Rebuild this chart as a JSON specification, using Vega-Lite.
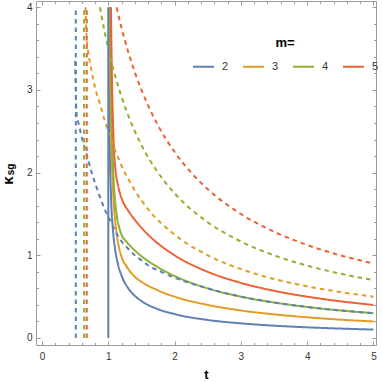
{
  "$schema": "https://vega.github.io/schema/vega-lite/v6.json",
  "width": 340,
  "height": 344,
  "autosize": {"type": "none"},
  "padding": {"left": 36, "top": 1, "right": 6, "bottom": 37},
  "background": "white",
  "datasets": {
    "curves": [
      {"m":"2","s":"solid","t":1.0078,"k":3.99},{"m":"2","s":"solid","t":1.01,"k":3.53},{"m":"2","s":"solid","t":1.02,"k":2.49},{"m":"2","s":"solid","t":1.04,"k":1.75},{"m":"2","s":"solid","t":1.07,"k":1.31},{"m":"2","s":"solid","t":1.1,"k":1.09},{"m":"2","s":"solid","t":1.15,"k":0.88},{"m":"2","s":"solid","t":1.2,"k":0.754},{"m":"2","s":"solid","t":1.3,"k":0.602},{"m":"2","s":"solid","t":1.4,"k":0.51},{"m":"2","s":"solid","t":1.5,"k":0.447},{"m":"2","s":"solid","t":1.75,"k":0.348},{"m":"2","s":"solid","t":2,"k":0.289},{"m":"2","s":"solid","t":2.5,"k":0.218},{"m":"2","s":"solid","t":3,"k":0.177},{"m":"2","s":"solid","t":3.5,"k":0.149},{"m":"2","s":"solid","t":4,"k":0.129},{"m":"2","s":"solid","t":4.5,"k":0.114},{"m":"2","s":"solid","t":5,"k":0.102},
      {"m":"3","s":"solid","t":1.02,"k":4},{"m":"3","s":"solid","t":1.03,"k":3.1},{"m":"3","s":"solid","t":1.045,"k":2.4},{"m":"3","s":"solid","t":1.065,"k":1.9},{"m":"3","s":"solid","t":1.085,"k":1.6},{"m":"3","s":"solid","t":1.1,"k":1.45},{"m":"3","s":"solid","t":1.13,"k":1.24},{"m":"3","s":"solid","t":1.16,"k":1.1},{"m":"3","s":"solid","t":1.2,"k":0.98},{"m":"3","s":"solid","t":1.28,"k":0.86},{"m":"3","s":"solid","t":1.4,"k":0.74},{"m":"3","s":"solid","t":1.5,"k":0.68},{"m":"3","s":"solid","t":1.75,"k":0.575},{"m":"3","s":"solid","t":2,"k":0.5},{"m":"3","s":"solid","t":2.5,"k":0.4},{"m":"3","s":"solid","t":3,"k":0.333},{"m":"3","s":"solid","t":3.5,"k":0.286},{"m":"3","s":"solid","t":4,"k":0.25},{"m":"3","s":"solid","t":4.5,"k":0.222},{"m":"3","s":"solid","t":5,"k":0.2},
      {"m":"4","s":"solid","t":1.03,"k":4},{"m":"4","s":"solid","t":1.04,"k":3.2},{"m":"4","s":"solid","t":1.055,"k":2.5},{"m":"4","s":"solid","t":1.075,"k":2.0},{"m":"4","s":"solid","t":1.1,"k":1.68},{"m":"4","s":"solid","t":1.13,"k":1.47},{"m":"4","s":"solid","t":1.16,"k":1.35},{"m":"4","s":"solid","t":1.2,"k":1.25},{"m":"4","s":"solid","t":1.28,"k":1.16},{"m":"4","s":"solid","t":1.4,"k":1.06},{"m":"4","s":"solid","t":1.5,"k":0.99},{"m":"4","s":"solid","t":1.75,"k":0.855},{"m":"4","s":"solid","t":2,"k":0.75},{"m":"4","s":"solid","t":2.5,"k":0.6},{"m":"4","s":"solid","t":3,"k":0.5},{"m":"4","s":"solid","t":3.5,"k":0.429},{"m":"4","s":"solid","t":4,"k":0.375},{"m":"4","s":"solid","t":4.5,"k":0.333},{"m":"4","s":"solid","t":5,"k":0.3},
      {"m":"5","s":"solid","t":1.04,"k":4},{"m":"5","s":"solid","t":1.05,"k":3.4},{"m":"5","s":"solid","t":1.06,"k":2.95},{"m":"5","s":"solid","t":1.075,"k":2.5},{"m":"5","s":"solid","t":1.09,"k":2.22},{"m":"5","s":"solid","t":1.11,"k":2.02},{"m":"5","s":"solid","t":1.14,"k":1.87},{"m":"5","s":"solid","t":1.18,"k":1.74},{"m":"5","s":"solid","t":1.22,"k":1.65},{"m":"5","s":"solid","t":1.3,"k":1.54},{"m":"5","s":"solid","t":1.4,"k":1.43},{"m":"5","s":"solid","t":1.5,"k":1.333},{"m":"5","s":"solid","t":1.75,"k":1.143},{"m":"5","s":"solid","t":2,"k":1.0},{"m":"5","s":"solid","t":2.5,"k":0.8},{"m":"5","s":"solid","t":3,"k":0.667},{"m":"5","s":"solid","t":3.5,"k":0.571},{"m":"5","s":"solid","t":4,"k":0.5},{"m":"5","s":"solid","t":4.5,"k":0.444},{"m":"5","s":"solid","t":5,"k":0.4},
      {"m":"2","s":"dashed","t":0.5,"k":3.35},{"m":"2","s":"dashed","t":0.51,"k":3.0},{"m":"2","s":"dashed","t":0.52,"k":2.72},{"m":"2","s":"dashed","t":0.55,"k":2.6},{"m":"2","s":"dashed","t":0.6,"k":2.43},{"m":"2","s":"dashed","t":0.67,"k":2.23},{"m":"2","s":"dashed","t":0.75,"k":2.0},{"m":"2","s":"dashed","t":0.85,"k":1.76},{"m":"2","s":"dashed","t":0.95,"k":1.55},{"m":"2","s":"dashed","t":1.03,"k":1.42},{"m":"2","s":"dashed","t":1.1,"k":1.3},{"m":"2","s":"dashed","t":1.2,"k":1.17},{"m":"2","s":"dashed","t":1.3,"k":1.08},{"m":"2","s":"dashed","t":1.4,"k":1.0},{"m":"2","s":"dashed","t":1.5,"k":0.94},{"m":"2","s":"dashed","t":1.6,"k":0.88},{"m":"2","s":"dashed","t":1.8,"k":0.8},{"m":"2","s":"dashed","t":2,"k":0.73},{"m":"2","s":"dashed","t":2.25,"k":0.66},{"m":"2","s":"dashed","t":2.5,"k":0.6},{"m":"2","s":"dashed","t":3,"k":0.5},{"m":"2","s":"dashed","t":3.5,"k":0.43},{"m":"2","s":"dashed","t":4,"k":0.375},{"m":"2","s":"dashed","t":4.5,"k":0.333},{"m":"2","s":"dashed","t":5,"k":0.3},
      {"m":"3","s":"dashed","t":0.655,"k":4.0},{"m":"3","s":"dashed","t":0.67,"k":3.68},{"m":"3","s":"dashed","t":0.7,"k":3.45},{"m":"3","s":"dashed","t":0.75,"k":3.22},{"m":"3","s":"dashed","t":0.8,"k":3.03},{"m":"3","s":"dashed","t":0.875,"k":2.83},{"m":"3","s":"dashed","t":0.95,"k":2.62},{"m":"3","s":"dashed","t":1.03,"k":2.43},{"m":"3","s":"dashed","t":1.18,"k":2.12},{"m":"3","s":"dashed","t":1.38,"k":1.81},{"m":"3","s":"dashed","t":1.63,"k":1.53},{"m":"3","s":"dashed","t":2,"k":1.25},{"m":"3","s":"dashed","t":2.5,"k":1.0},{"m":"3","s":"dashed","t":3,"k":0.833},{"m":"3","s":"dashed","t":3.5,"k":0.714},{"m":"3","s":"dashed","t":4,"k":0.625},{"m":"3","s":"dashed","t":4.5,"k":0.556},{"m":"3","s":"dashed","t":5,"k":0.5},
      {"m":"4","s":"dashed","t":0.875,"k":4.0},{"m":"4","s":"dashed","t":0.9,"k":3.889},{"m":"4","s":"dashed","t":0.95,"k":3.684},{"m":"4","s":"dashed","t":1,"k":3.5},{"m":"4","s":"dashed","t":1.1,"k":3.182},{"m":"4","s":"dashed","t":1.2,"k":2.917},{"m":"4","s":"dashed","t":1.35,"k":2.593},{"m":"4","s":"dashed","t":1.5,"k":2.333},{"m":"4","s":"dashed","t":1.75,"k":2.0},{"m":"4","s":"dashed","t":2,"k":1.75},{"m":"4","s":"dashed","t":2.5,"k":1.4},{"m":"4","s":"dashed","t":3,"k":1.167},{"m":"4","s":"dashed","t":3.5,"k":1.0},{"m":"4","s":"dashed","t":4,"k":0.875},{"m":"4","s":"dashed","t":4.5,"k":0.778},{"m":"4","s":"dashed","t":5,"k":0.7},
      {"m":"5","s":"dashed","t":1.125,"k":4.0},{"m":"5","s":"dashed","t":1.2,"k":3.75},{"m":"5","s":"dashed","t":1.3,"k":3.462},{"m":"5","s":"dashed","t":1.4,"k":3.214},{"m":"5","s":"dashed","t":1.5,"k":3.0},{"m":"5","s":"dashed","t":1.75,"k":2.571},{"m":"5","s":"dashed","t":2,"k":2.25},{"m":"5","s":"dashed","t":2.25,"k":2.0},{"m":"5","s":"dashed","t":2.5,"k":1.8},{"m":"5","s":"dashed","t":3,"k":1.5},{"m":"5","s":"dashed","t":3.5,"k":1.286},{"m":"5","s":"dashed","t":4,"k":1.125},{"m":"5","s":"dashed","t":4.5,"k":1.0},{"m":"5","s":"dashed","t":5,"k":0.9}
    ],
    "verticals": [
      {"m":"2","s":"solid","t":1.0,"k0":0,"k1":4},
      {"m":"2","s":"dashed","t":0.51,"k0":0,"k1":4},
      {"m":"4","s":"dashed","t":0.635,"k0":0,"k1":4},
      {"m":"5","s":"dashed","t":0.675,"k0":0,"k1":4}
    ]
  },
  "layer": [
    {
      "data": {"name": "curves"},
      "mark": {"type": "line", "strokeWidth": 2, "interpolate": "monotone", "clip": true},
      "encoding": {
        "x": {"field": "t", "type": "quantitative",
          "scale": {"domain": [-0.0905, 5.038], "nice": false, "zero": false},
          "axis": {"orient": "bottom", "values": [0,0.2,0.4,0.6,0.8,1,1.2,1.4,1.6,1.8,2,2.2,2.4,2.6,2.8,3,3.2,3.4,3.6,3.8,4,4.2,4.4,4.6,4.8,5],
            "format": ".0f",
            "tickSize": {"condition": {"test": "datum.value % 1 === 0", "value": -4}, "value": -2.5},
            "labelExpr": "datum.value % 1 === 0 ? datum.label : ''",
            "labelPadding": 10, "labelFlush": false, "labelOverlap": false,
            "title": "t", "titleFontSize": 13, "titleFontWeight": "bold", "titleColor": "#000", "titlePadding": 6}},
        "y": {"field": "k", "type": "quantitative",
          "scale": {"domain": [-0.0847, 4.076], "nice": false, "zero": false},
          "axis": {"orient": "left", "values": [0,0.2,0.4,0.6,0.8,1,1.2,1.4,1.6,1.8,2,2.2,2.4,2.6,2.8,3,3.2,3.4,3.6,3.8,4],
            "format": ".0f",
            "tickSize": {"condition": {"test": "datum.value % 1 === 0", "value": -4}, "value": -2.5},
            "labelExpr": "datum.value % 1 === 0 ? datum.label : ''",
            "labelPadding": 8, "labelOverlap": false, "labelFlush": false,
            "title": "κ", "titleFontSize": 15, "titleFontWeight": "bold", "titleColor": "#000",
            "titleX": -29, "titleY": 179, "titleAlign": "center", "titleBaseline": "middle", "titleAngle": -90}},
        "color": {"field": "m", "type": "nominal",
          "scale": {"domain": ["2","3","4","5"], "range": ["#5E81B5","#E19C24","#8FB032","#EB6235"]},
          "legend": {"title": "m=", "orient": "none", "legendX": 156, "legendY": 36, "direction": "horizontal",
            "titleAnchor": "middle", "titleFontSize": 13, "titleFontWeight": "bold", "titleColor": "#000", "titleFont": "Liberation Sans", "titlePadding": 5,
            "symbolType": "stroke", "symbolSize": 441, "symbolStrokeWidth": 2, "symbolDash": [1,0],
            "labelFontSize": 11, "labelFont": "Liberation Sans", "labelColor": "#333", "labelOffset": 7, "columnPadding": 10}},
        "strokeDash": {"field": "s", "type": "nominal",
          "scale": {"domain": ["solid","dashed"], "range": [[1,0],[4.5,4]]}, "legend": null}
      }
    },
    {
      "data": {"name": "verticals"},
      "mark": {"type": "rule", "strokeWidth": 2, "clip": true},
      "encoding": {
        "x": {"field": "t", "type": "quantitative",
          "scale": {"domain": [-0.0905, 5.038], "nice": false, "zero": false},
          "axis": {"orient": "top", "values": [0,0.2,0.4,0.6,0.8,1,1.2,1.4,1.6,1.8,2,2.2,2.4,2.6,2.8,3,3.2,3.4,3.6,3.8,4,4.2,4.4,4.6,4.8,5],
            "tickSize": {"condition": {"test": "datum.value % 1 === 0", "value": -4}, "value": -2.5},
            "labels": false, "title": null}},
        "y": {"field": "k0", "type": "quantitative",
          "scale": {"domain": [-0.0847, 4.076], "nice": false, "zero": false},
          "axis": {"orient": "right", "values": [0,0.2,0.4,0.6,0.8,1,1.2,1.4,1.6,1.8,2,2.2,2.4,2.6,2.8,3,3.2,3.4,3.6,3.8,4],
            "tickSize": {"condition": {"test": "datum.value % 1 === 0", "value": -4}, "value": -2.5},
            "labels": false,
            "title": "sg", "titleFontSize": 10, "titleFontWeight": "bold", "titleColor": "#000",
            "titleX": -366, "titleY": 168, "titleAlign": "center", "titleBaseline": "middle", "titleAngle": -90}},
        "y2": {"field": "k1"},
        "color": {"field": "m", "type": "nominal"},
        "strokeDash": {"field": "s", "type": "nominal"}
      }
    }
  ],
  "resolve": {"scale": {"x": "independent", "y": "independent"}, "axis": {"x": "independent", "y": "independent"}},
  "config": {
    "view": {"stroke": null},
    "axis": {"grid": false, "domainColor": "#9a9a9a", "tickColor": "#9a9a9a", "labelColor": "#333", "labelFont": "Liberation Sans", "labelFontSize": 10, "titleFont": "Liberation Sans"}
  }
}
